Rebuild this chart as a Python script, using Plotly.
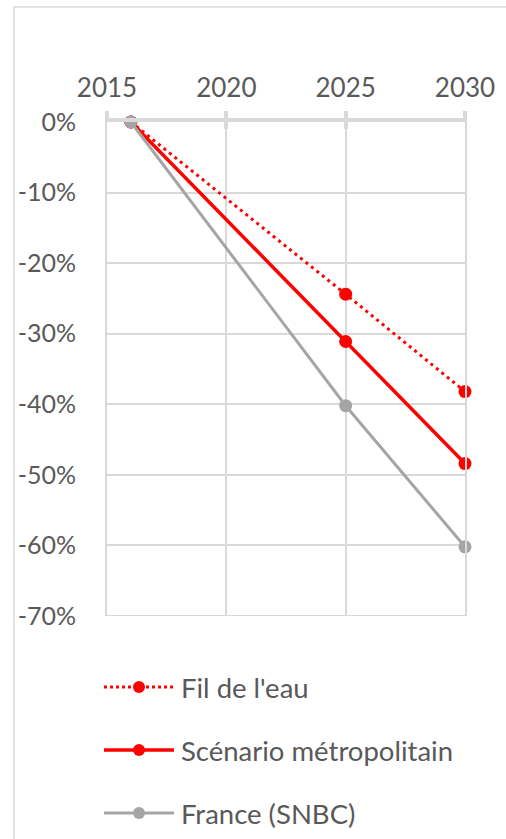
import plotly.graph_objects as go

# Emission change relative to 2016
years = [2016, 2025, 2030]
fil_de_leau = [0.0, -0.244, -0.382]
scenario_metro = [0.0, -0.311, -0.484]
france_snbc = [0.0, -0.402, -0.602]

series_names = ["Fil de l'eau", "Scénario métropolitain", "France (SNBC)"]
series_values = [fil_de_leau, scenario_metro, france_snbc]
series_colors = ["#FF0000", "#FF0000", "#A5A5A5"]
series_widths = [3, 3.5, 3]
series_dash = ["3px,4px", "solid", "solid"]

x_ticks = [2015, 2020, 2025, 2030]
y_ticks = [0, -0.1, -0.2, -0.3, -0.4, -0.5, -0.6, -0.7]
y_ticklabels = ["0%", "-10%", "-20%", "-30%", "-40%", "-50%", "-60%", "-70%"]

W, H = 506, 839
L, R, T, B = 107, 465, 122, 616  # plot area in pixels
FONT = "Lato, 'Open Sans', sans-serif"
TXT = "#595959"
GRID = "#D9D9D9"


def px_x(p):
    return (p - L) / (R - L)


def px_y(p):
    return (B - p) / (B - T)


fig = go.Figure()
for name, vals, col, w, dash in zip(series_names, series_values, series_colors,
                                    series_widths, series_dash):
    fig.add_trace(go.Scatter(
        x=years, y=vals, name=name, mode="lines+markers",
        line=dict(color=col, width=w, dash=dash),
        marker=dict(color=col, size=13),
        showlegend=False, cliponaxis=False,
    ))

fig.update_layout(
    width=W, height=H,
    margin=dict(l=L, r=W - R, t=T, b=H - B, pad=0),
    paper_bgcolor="white", plot_bgcolor="white",
    font=dict(family=FONT, color=TXT, size=26),
    xaxis=dict(
        range=[2015, 2030], side="top", tickvals=x_ticks,
        ticktext=[str(v) for v in x_ticks],
        showgrid=True, gridcolor=GRID, gridwidth=2,
        showline=True, linecolor=GRID, linewidth=4,
        ticks="outside", ticklen=7, tickwidth=4, tickcolor=GRID,
        ticklabelstandoff=4,
        zeroline=False, fixedrange=True,
    ),
    xaxis2=dict(
        range=[2015, 2030], overlaying="x", side="top", anchor="y",
        tickvals=x_ticks, showticklabels=False, showgrid=False,
        ticks="inside", ticklen=7, tickwidth=4, tickcolor=GRID,
        showline=False, zeroline=False,
    ),
    yaxis=dict(
        range=[-0.7, 0], tickvals=y_ticks, ticktext=y_ticklabels,
        tickfont=dict(size=25),
        showgrid=True, gridcolor=GRID, gridwidth=2,
        zeroline=False, showline=True, mirror=True,
        linecolor=GRID, linewidth=2, ticks="",
        ticklabelstandoff=24, fixedrange=True,
    ),
)

# invisible trace so the overlaying axis with cross ticks is drawn
fig.add_trace(go.Scatter(x=[2015], y=[0], xaxis="x2", mode="markers",
                         marker=dict(opacity=0), showlegend=False,
                         hoverinfo="skip"))

shapes = []
annotations = []

# chart frame border (top and left edges visible)
shapes.append(dict(type="rect", xref="paper", yref="paper",
                   x0=px_x(14), x1=px_x(530), y0=px_y(860), y1=px_y(7),
                   line=dict(color="#D9D9D9", width=1.5), layer="below"))
# bottom gridline at -70%
shapes.append(dict(type="line", xref="paper", yref="y", x0=0, x1=1,
                   y0=-0.7, y1=-0.7, line=dict(color=GRID, width=2),
                   layer="below"))

# legend
legend_rows = [687, 750, 813]
for name, col, w, dash, yr in zip(series_names, series_colors, series_widths,
                                  series_dash, legend_rows):
    shapes.append(dict(type="line", xref="paper", yref="paper",
                       x0=px_x(104), x1=px_x(174), y0=px_y(yr), y1=px_y(yr),
                       line=dict(color=col, width=w,
                                 dash="dot" if dash != "solid" else "solid")))
    shapes.append(dict(type="circle", xref="paper", yref="paper",
                       x0=px_x(133), x1=px_x(145),
                       y0=px_y(yr + 6), y1=px_y(yr - 6),
                       fillcolor=col, line=dict(color=col, width=0)))
    annotations.append(dict(text=name, xref="paper", yref="paper",
                            x=px_x(179), y=px_y(yr), xanchor="left",
                            yanchor="middle", showarrow=False,
                            font=dict(family=FONT, color=TXT, size=27.5)))

fig.update_layout(shapes=shapes, annotations=annotations)

fig.write_html("out.html", config={"displayModeBar": False})
